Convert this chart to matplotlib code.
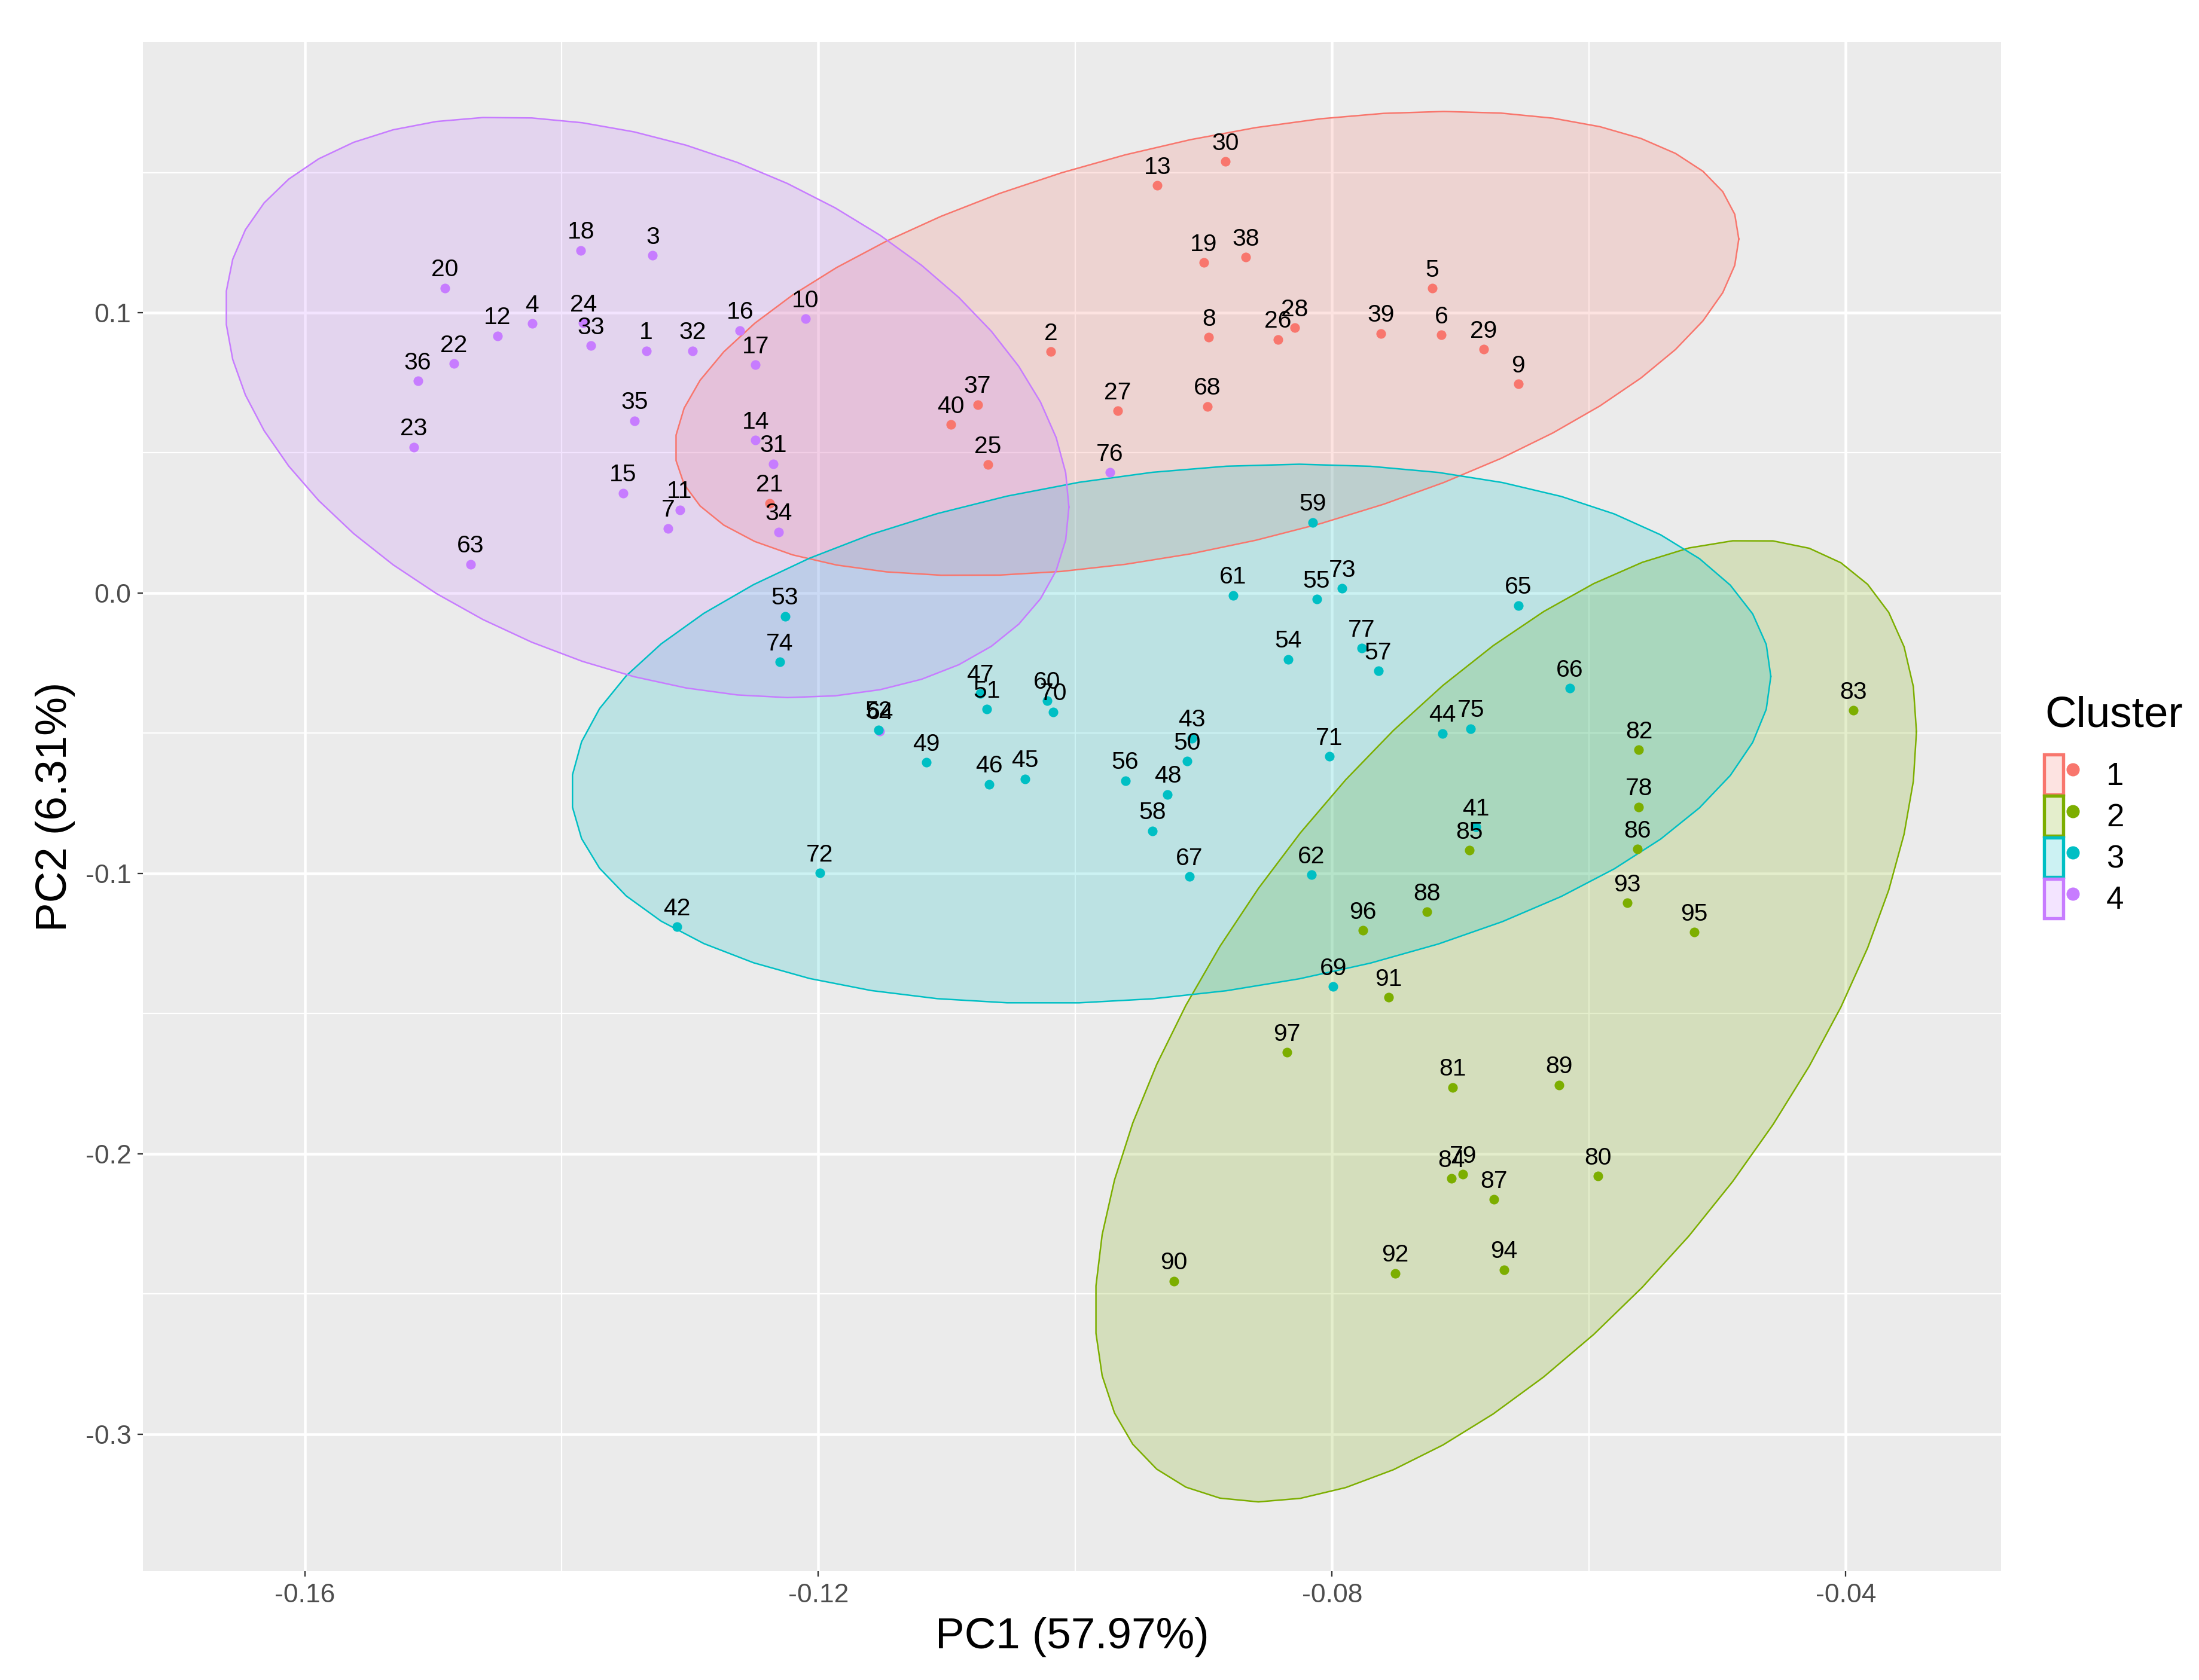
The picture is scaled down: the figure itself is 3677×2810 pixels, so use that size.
import numpy as np
import matplotlib
matplotlib.use("Agg")
import matplotlib.pyplot as plt
from matplotlib.patches import Patch
from matplotlib.lines import Line2D
from matplotlib.legend_handler import HandlerTuple

plt.rcParams["font.family"] = ["Liberation Sans", "DejaVu Sans"]

# sample ids, PC scores, cluster membership
ids = [
    18, 3, 20, 4, 12, 24, 33, 1, 32, 16, 10, 17, 22, 36, 35, 23, 14, 31, 15, 11, 7, 34, 63, 76,
    30, 13, 19, 38, 5, 8, 26, 28, 39, 6, 29, 9, 2, 37, 40, 27, 68, 25, 21,
    53, 74, 47, 51, 60, 70, 64, 52, 49, 46, 45, 56, 48, 43, 50, 58, 67, 72, 42,
    61, 59, 55, 73, 65, 54, 77, 57, 66, 44, 75, 71, 41, 62, 69,
    82, 83, 78, 85, 86, 88, 96, 93, 95, 91, 97, 81, 89, 84, 79, 87, 80, 90, 92, 94,
]
pc1 = [
    -0.1385, -0.1329, -0.1491, -0.1423, -0.1450, -0.1383, -0.1377, -0.1334, -0.1298, -0.1261,
    -0.1210, -0.1249, -0.1484, -0.1512, -0.1343, -0.1515, -0.1249, -0.1235, -0.1352, -0.1308,
    -0.1317, -0.1231, -0.1471, -0.0973,
    -0.0883, -0.0936, -0.0900, -0.0867, -0.0722, -0.0896, -0.0842, -0.0829, -0.0762, -0.0715,
    -0.0682, -0.0655, -0.1019, -0.1076, -0.1097, -0.0967, -0.0897, -0.1068, -0.1238,
    -0.1226, -0.1230, -0.1074, -0.1069, -0.1022, -0.1017, -0.1152, -0.1153, -0.1116, -0.1067,
    -0.1039, -0.0961, -0.0928, -0.0909, -0.0913, -0.0940, -0.0911, -0.1199, -0.1310,
    -0.0877, -0.0815, -0.0812, -0.0792, -0.0655, -0.0834, -0.0777, -0.0764, -0.0615, -0.0714,
    -0.0692, -0.0802, -0.0688, -0.0816, -0.0799,
    -0.0561, -0.0394, -0.0561, -0.0693, -0.0562, -0.0726, -0.0776, -0.0570, -0.0518, -0.0756,
    -0.0835, -0.0706, -0.0623, -0.0707, -0.0698, -0.0674, -0.0593, -0.0923, -0.0751, -0.0666,
]
pc2 = [
    0.1222, 0.1204, 0.1088, 0.0961, 0.0917, 0.0963, 0.0882, 0.0864, 0.0864, 0.0937,
    0.0978, 0.0814, 0.0818, 0.0756, 0.0615, 0.0521, 0.0545, 0.0461, 0.0357, 0.0297,
    0.0231, 0.0218, 0.0103, 0.0430,
    0.1539, 0.1454, 0.1179, 0.1198, 0.1087, 0.0912, 0.0905, 0.0946, 0.0926, 0.0920,
    0.0869, 0.0746, 0.0861, 0.0672, 0.0601, 0.0650, 0.0666, 0.0458, 0.0320,
    -0.0083, -0.0246, -0.0358, -0.0414, -0.0383, -0.0424, -0.0492, -0.0488, -0.0604, -0.0682,
    -0.0663, -0.0669, -0.0718, -0.0518, -0.0600, -0.0848, -0.1012, -0.0999, -0.1190,
    -0.0008, 0.0252, -0.0022, 0.0017, -0.0044, -0.0236, -0.0197, -0.0278, -0.0340, -0.0501,
    -0.0484, -0.0583, -0.0834, -0.1005, -0.1404,
    -0.0559, -0.0419, -0.0763, -0.0917, -0.0913, -0.1137, -0.1203, -0.1105, -0.1210, -0.1442,
    -0.1639, -0.1763, -0.1755, -0.2088, -0.2074, -0.2163, -0.2080, -0.2454, -0.2426, -0.2414,
]
# sample 64 sits under sample 52 but belongs to cluster 4
cluster = [4] * 24 + [1] * 19 + [3] * 6 + [4] + [3] * 27 + [2] * 20

cluster_names = ["1", "2", "3", "4"]
colors = {1: "#F8766D", 2: "#7CAE00", 3: "#00BFC4", 4: "#C77CFF"}


def ellipse_points(x, y, level=0.95, segments=51):
    # same construction as ggplot2 stat_ellipse(type = "norm")
    x = np.asarray(x)
    y = np.asarray(y)
    cov = np.cov(x, y)
    chol = np.linalg.cholesky(cov).T
    dfd = len(x) - 1
    fq = dfd / 2.0 * ((1 - level) ** (-2.0 / dfd) - 1)
    radius = np.sqrt(2 * fq)
    t = np.arange(segments + 1) * 2 * np.pi / segments
    unit = np.column_stack([np.cos(t), np.sin(t)])
    ell = np.array([x.mean(), y.mean()]) + radius * unit @ chol
    return ell[:, 0], ell[:, 1]


def main():
    pc1_a = np.array(pc1)
    pc2_a = np.array(pc2)
    cl = np.array(cluster)

    fig = plt.figure(figsize=(3677 / 300, 2810 / 300), dpi=300)
    ax = fig.add_axes([239 / 3677, 1 - 2628 / 2810, (3346 - 239) / 3677, (2628 - 70) / 2810])
    ax.set_facecolor("#EBEBEB")

    for k in [1, 2, 3, 4]:
        m = cl == k
        ex, ey = ellipse_points(pc1_a[m], pc2_a[m])
        ax.fill(ex, ey, color=colors[k], alpha=0.2, lw=0, zorder=2)
        ax.plot(ex, ey, color=colors[k], lw=0.6, zorder=3)

    for k in [4, 1, 2, 3]:
        m = cl == k
        ax.scatter(pc1_a[m], pc2_a[m], s=15, color=colors[k], lw=0, zorder=4)

    for i, xv, yv in zip(ids, pc1, pc2):
        ax.annotate(str(i), (xv, yv), xytext=(0, 7.3), textcoords="offset points",
                    ha="center", va="center", fontsize=9.8, color="black", zorder=5)

    ax.set_xlim(-0.1726, -0.0279)
    ax.set_ylim(-0.3489, 0.1966)
    ax.set_xticks([-0.16, -0.12, -0.08, -0.04])
    ax.set_xticklabels(["-0.16", "-0.12", "-0.08", "-0.04"])
    ax.set_yticks([0.1, 0.0, -0.1, -0.2, -0.3])
    ax.set_yticklabels(["0.1", "0.0", "-0.1", "-0.2", "-0.3"])
    ax.set_xticks([-0.14, -0.10, -0.06], minor=True)
    ax.set_yticks([0.15, 0.05, -0.05, -0.15, -0.25], minor=True)
    ax.grid(True, which="major", color="white", lw=1.1, zorder=0)
    ax.grid(True, which="minor", color="white", lw=0.55, zorder=0)
    ax.set_axisbelow(True)
    ax.tick_params(which="major", length=2.2, width=0.55, color="#333333",
                   labelsize=10.7, labelcolor="#4D4D4D", pad=2.5)
    ax.tick_params(which="minor", length=0)
    for sp in ax.spines.values():
        sp.set_visible(False)

    ax.set_xlabel("PC1 (57.97%)", fontsize=17.5, labelpad=4)
    ax.set_ylabel("PC2 (6.31%)", fontsize=17.5, labelpad=4)

    # legend: title as its own text, keys as filled squares with a dot
    fig.text(3419 / 3677, 1 - 1215 / 2810, "Cluster", fontsize=17.5,
             ha="left", va="baseline")
    handles = []
    for k in [1, 2, 3, 4]:
        patch = Patch(facecolor=matplotlib.colors.to_rgba(colors[k], 0.2),
                      edgecolor=colors[k], lw=1.3)
        dot = Line2D([], [], marker="o", color=colors[k], linestyle="", markersize=4.3)
        handles.append((patch, dot))
    fig.legend(handles, cluster_names,
               handler_map={tuple: HandlerTuple(ndivide=None)},
               loc="upper left", bbox_to_anchor=(3418 / 3677, 1 - 1262 / 2810),
               frameon=False, fontsize=12.7,
               handlelength=1.22, handleheight=1.56, labelspacing=0.05,
               handletextpad=0.75, borderpad=0, borderaxespad=0)

    fig.savefig("out.png", dpi=300, facecolor="white")


if __name__ == "__main__":
    main()
